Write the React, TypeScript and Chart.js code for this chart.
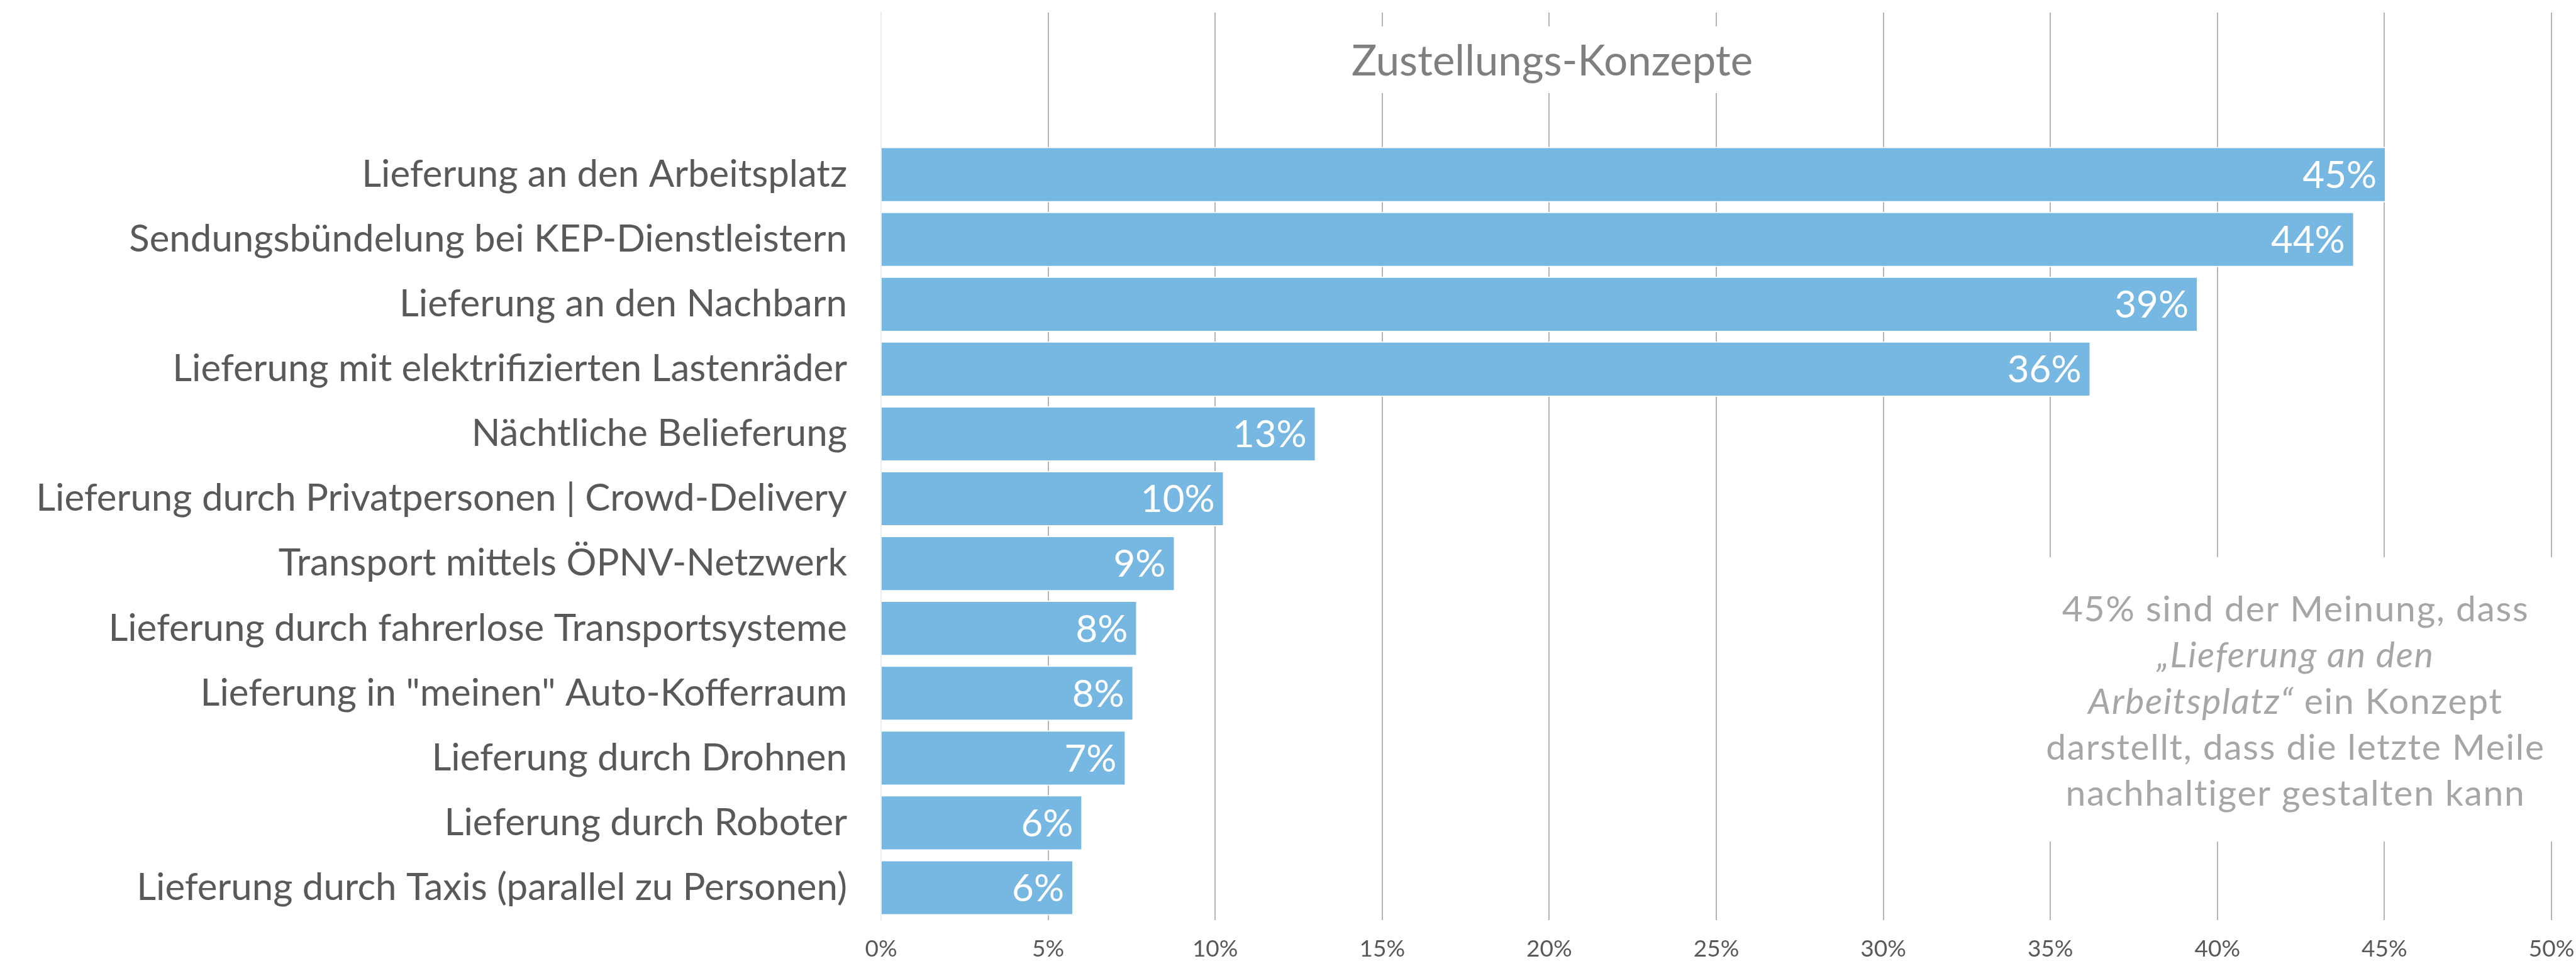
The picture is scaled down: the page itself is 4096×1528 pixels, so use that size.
import React, { useEffect, useRef } from "react";
import { Chart, registerables } from "chart.js";

Chart.register(...registerables);

const categories = [
  "Lieferung an den Arbeitsplatz",
  "Sendungsbündelung bei KEP-Dienstleistern",
  "Lieferung an den Nachbarn",
  "Lieferung mit elektrifizierten Lastenräder",
  "Nächtliche Belieferung",
  "Lieferung durch Privatpersonen | Crowd-Delivery",
  "Transport mittels ÖPNV-Netzwerk",
  "Lieferung durch fahrerlose Transportsysteme",
  "Lieferung in \"meinen\" Auto-Kofferraum",
  "Lieferung durch Drohnen",
  "Lieferung durch Roboter",
  "Lieferung durch Taxis (parallel zu Personen)",
];

const values = [45.05, 44.1, 39.42, 36.21, 13.02, 10.27, 8.8, 7.67, 7.56, 7.33, 6.03, 5.76];

const valueLabels = ["45%", "44%", "39%", "36%", "13%", "10%", "9%", "8%", "8%", "7%", "6%", "6%"];

const xTickValues = [0, 5, 10, 15, 20, 25, 30, 35, 40, 45, 50];

const chartTitle = "Zustellungs-Konzepte";

// each line: list of [text, italic]
const noteLines: [string, boolean][][] = [
  [["45% sind der Meinung, dass", false]],
  [["\u201ELieferung an den", true]],
  [["Arbeitsplatz\u201C", true], [" ein Konzept", false]],
  [["darstellt, dass die letzte Meile", false]],
  [["nachhaltiger gestalten kann", false]],
];

const FONT = "Lato, 'Liberation Sans', sans-serif";

const overlayPlugin = {
  id: "overlay",
  afterDatasetsDraw(chart: any) {
    const ctx = chart.ctx as CanvasRenderingContext2D;
    const meta = chart.getDatasetMeta(0);
    const data = chart.data.datasets[0].data as (number | null)[];
    const offset = data.length - valueLabels.length;
    ctx.save();
    ctx.fillStyle = "#ffffff";
    ctx.font = `60px ${FONT}`;
    ctx.textAlign = "right";
    ctx.textBaseline = "middle";
    meta.data.forEach((bar: any, i: number) => {
      if (data[i] == null) return;
      ctx.fillText(valueLabels[i - offset], bar.x - 15, bar.y + 2);
    });
    ctx.restore();
  },
  afterDraw(chart: any) {
    const ctx = chart.ctx as CanvasRenderingContext2D;
    ctx.save();
    // title box
    ctx.fillStyle = "#ffffff";
    ctx.fillRect(2130, 42, 680, 106);
    ctx.fillStyle = "#7f7f7f";
    ctx.font = `67px ${FONT}`;
    ctx.textAlign = "center";
    ctx.textBaseline = "alphabetic";
    ctx.fillText(chartTitle, 2468, 120);

    // note box
    ctx.fillStyle = "#ffffff";
    ctx.fillRect(3190, 886, 906, 452);
    ctx.fillStyle = "#a6a6a6";
    ctx.textAlign = "left";
    (ctx as any).letterSpacing = "1.7px";
    const size = 57;
    const cx = 3650;
    noteLines.forEach((runs, li) => {
      const y = 988 + li * 73.3;
      let total = 0;
      runs.forEach(([t, it]) => {
        ctx.font = `${it ? "italic " : ""}${size}px ${FONT}`;
        total += ctx.measureText(t).width;
      });
      let x = cx - total / 2;
      runs.forEach(([t, it]) => {
        ctx.font = `${it ? "italic " : ""}${size}px ${FONT}`;
        ctx.fillText(t, x, y);
        x += ctx.measureText(t).width;
      });
    });
    ctx.restore();
  },
};

export default function App() {
  const ref = useRef<HTMLCanvasElement | null>(null);

  useEffect(() => {
    document.body.style.margin = "0";
    const labels = ["", "", ...categories];
    const data = [null, null, ...values];
    const chart = new Chart(ref.current as HTMLCanvasElement, {
      type: "bar",
      data: {
        labels,
        datasets: [
          {
            data,
            backgroundColor: "#77b8e3",
            borderColor: "#ffffff",
            borderWidth: 2,
            borderSkipped: "start",
            categoryPercentage: 1,
            barPercentage: 0.855,
          },
        ],
      },
      options: {
        indexAxis: "y",
        responsive: false,
        animation: false,
        devicePixelRatio: 1,
        layout: { padding: { top: 20, right: 39, left: 0, bottom: 0 } },
        plugins: {
          legend: { display: false },
          tooltip: { enabled: false },
          title: { display: false },
        },
        scales: {
          x: {
            type: "linear",
            position: "bottom",
            min: 0,
            max: 50,
            afterBuildTicks: (scale: any) => {
              scale.ticks = xTickValues.map((v) => ({ value: v }));
            },
            afterFit: (scale: any) => {
              scale.height = 65;
              scale.paddingLeft = 0;
              scale.paddingRight = 0;
              scale.paddingTop = 0;
              scale.paddingBottom = 0;
            },
            ticks: {
              callback: (v: any) => `${v}%`,
              color: "#595959",
              font: { family: FONT, size: 37 },
              padding: 24,
              maxRotation: 0,
              autoSkip: false,
            },
            grid: {
              color: (c: any) => (c.tick && c.tick.value === 0 ? "#ececec" : "#b5b5b5"),
              lineWidth: 2,
              drawTicks: false,
            },
            border: { display: false },
          },
          y: {
            type: "category",
            afterFit: (scale: any) => {
              scale.width = 1401;
              scale.paddingTop = 0;
              scale.paddingBottom = 0;
              scale.paddingLeft = 0;
              scale.paddingRight = 0;
            },
            ticks: {
              color: "#595959",
              font: { family: FONT, size: 60 },
              padding: 54,
              autoSkip: false,
            },
            grid: { display: false, drawTicks: false },
            border: { display: true, color: "#ececec", width: 2 },
          },
        },
      },
      plugins: [overlayPlugin],
    } as any);
    return () => chart.destroy();
  }, []);

  return (
    <div style={{ position: "absolute", left: 0, top: 0, width: 4096, height: 1528, background: "#fff" }}>
      <canvas ref={ref} width={4096} height={1528} style={{ width: 4096, height: 1528 }} />
    </div>
  );
}
